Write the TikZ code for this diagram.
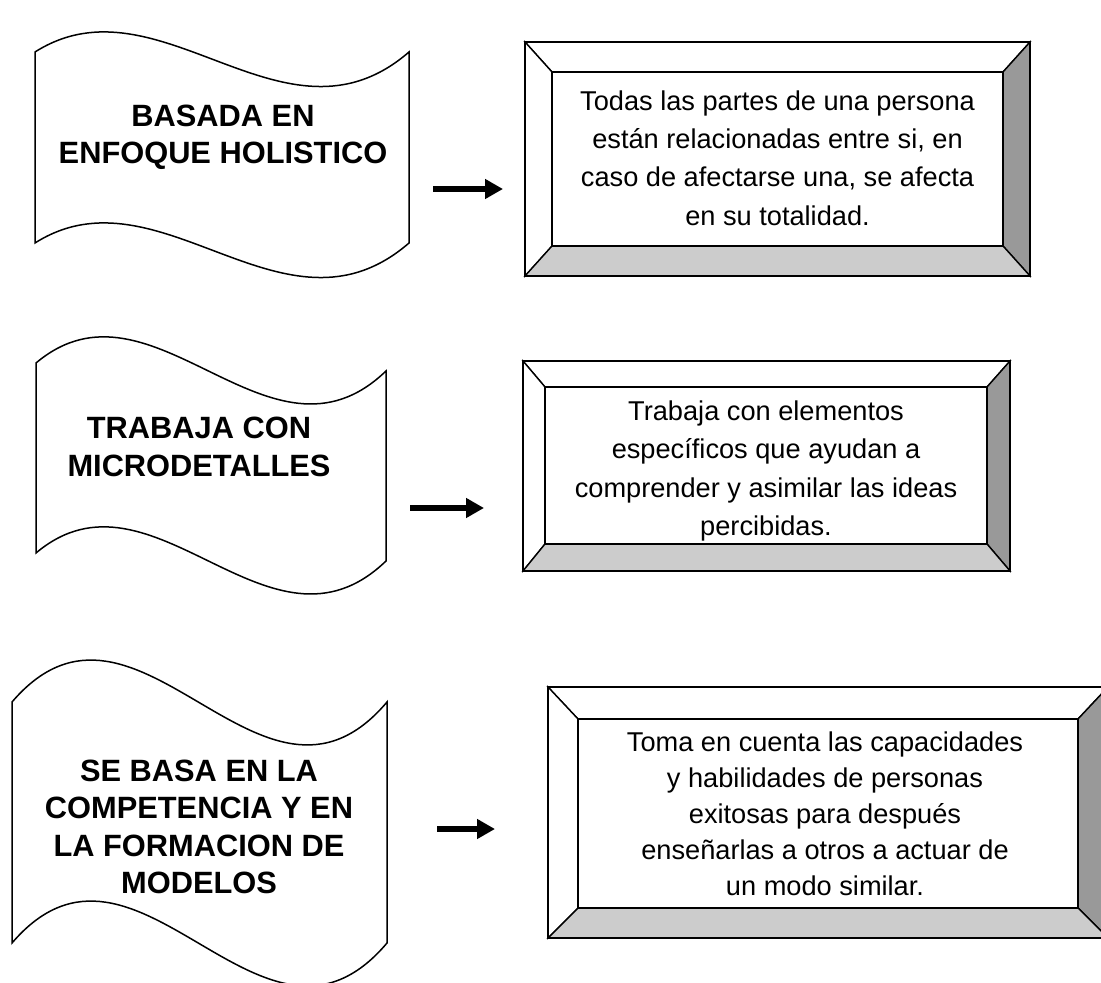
\documentclass[tikz,border=0pt]{standalone}
\usepackage{fontspec}
\setmainfont{Liberation Sans}
\usetikzlibrary{arrows.meta}
\begin{document}
\begin{tikzpicture}[x=0.5pt,y=-0.5pt,
 wave/.style={draw,line width=0.75pt,fill=white},
 bevel/.style={draw,line width=0.7pt},
 wavetxt/.style={align=center,font=\fontsize{15.4}{18.7}\selectfont\bfseries},
 boxtxt/.style={align=center,font=\fontsize{13.6}{19.2}\selectfont},
 link/.style={line width=2.6pt,-{Triangle[length=9pt,width=9.5pt]}}]
 \useasboundingbox (0,0) rectangle (1101,983);
 \clip (0,0) rectangle (1101,983);
 % banderas
 \draw[wave] (35,52) .. controls (159.7,-27) and (284.3,160) .. (409,52)
 -- (409,243) .. controls (284.3,351) and (159.7,164) .. (35,243) -- cycle;
 \draw[wave] (36,363) .. controls (152.7,264.7) and (269.3,483.3) .. (386,371)
 -- (386,561) .. controls (269.3,673.3) and (152.7,454.7) .. (36,553) -- cycle;
 \draw[wave] (12,702) .. controls (137,556) and (262,850) .. (387,702)
 -- (387,943) .. controls (262,1091) and (137,797) .. (12,943) -- cycle;
 \node[wavetxt] (w1) at (223,137) {BASADA EN\\ENFOQUE HOLISTICO};
 \node[wavetxt] (w2) at (199,447) {TRABAJA CON\\MICRODETALLES};
 \node[wavetxt] (w3) at (199,827) {SE BASA EN LA\\COMPETENCIA Y EN\\LA FORMACION DE\\MODELOS};
 % cuadros biselados
 \foreach \xa/\ya/\xb/\yb/\xc/\yc/\xd/\yd in
 {525/42/1030/276/552/72/1003/246,
 523/361/1010/571/545/387/987/544,
 548/687/1108/938/578/719/1078/908}{
 \draw[bevel,fill=white] (\xa,\ya)--(\xb,\ya)--(\xd,\yc)--(\xc,\yc)--cycle;
 \draw[bevel,fill=white] (\xa,\ya)--(\xc,\yc)--(\xc,\yd)--(\xa,\yb)--cycle;
 \draw[bevel,fill=black!40] (\xb,\ya)--(\xb,\yb)--(\xd,\yd)--(\xd,\yc)--cycle;
 \draw[bevel,fill=black!20] (\xa,\yb)--(\xb,\yb)--(\xd,\yd)--(\xc,\yd)--cycle;
 \draw[line width=1pt] (\xa,\ya) rectangle (\xb,\yb);
 \draw[line width=0.8pt] (\xc,\yc) rectangle (\xd,\yd);
 }
 \node[boxtxt] (b1) at (777.5,158) {Todas las partes de una persona\\están relacionadas entre si, en\\caso de afectarse una, se afecta\\en su totalidad.};
 \node[boxtxt] (b2) at (766,471) {Trabaja con elementos\\específicos que ayudan a\\comprender y asimilar las ideas\\percibidas.};
 \node[boxtxt,font=\fontsize{13.6}{18}\selectfont] (b3) at (825,814) {Toma en cuenta las capacidades\\y habilidades de personas\\exitosas para después\\enseñarlas a otros a actuar de\\un modo similar.};
 % flechas
 \coordinate (p1) at (433,189); \coordinate (q1) at (503,189);
 \coordinate (p2) at (410,508); \coordinate (q2) at (484,508);
 \coordinate (p3) at (437,829); \coordinate (q3) at (495,829);
 \draw[link] (p1) -- (q1);
 \draw[link] (p2) -- (q2);
 \draw[link] (p3) -- (q3);
\end{tikzpicture}
\end{document}
